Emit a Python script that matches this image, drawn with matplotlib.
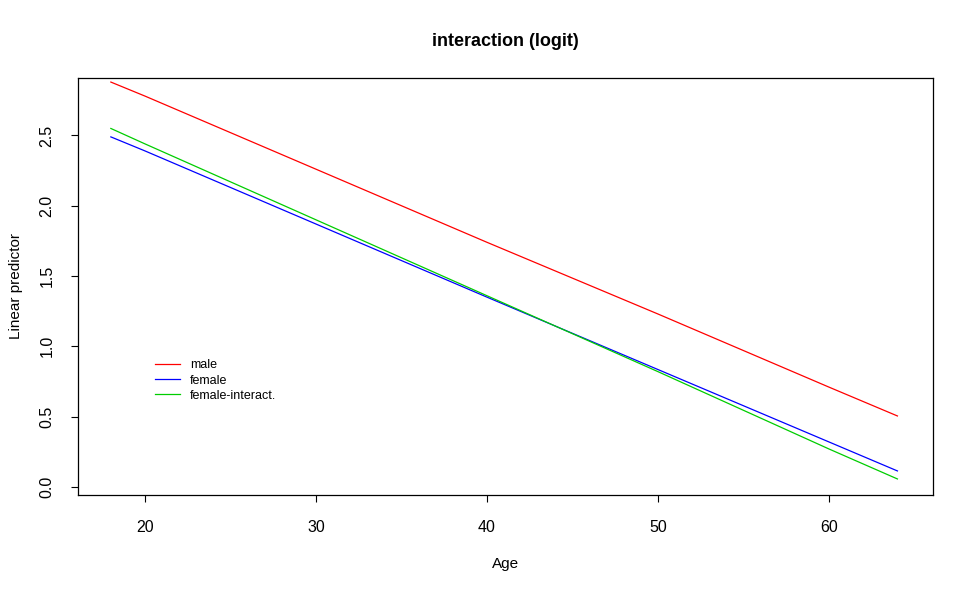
import matplotlib
matplotlib.use("Agg")
import matplotlib.pyplot as plt

plt.rcParams['font.family'] = ['Liberation Sans', 'DejaVu Sans']

# values
age = [18, 20, 30, 40, 50, 60, 64]
male = [2.88, 2.78, 2.26, 1.74, 1.23, 0.71, 0.505]
female = [2.49, 2.39, 1.87, 1.35, 0.835, 0.32, 0.114]
female_interact = [2.55, 2.44, 1.90, 1.36, 0.82, 0.27, 0.057]

labels = ['male', 'female', 'female-interact.']
colors = ['#FF0000', '#0000FF', '#00CD00']

fig = plt.figure(figsize=(9.74, 5.93), dpi=100)
ax = fig.add_axes([0.0801, 0.1653, 0.8778, 0.7032])

for y, lab, col in zip([male, female, female_interact], labels, colors):
    ax.plot(age, y, color=col, lw=0.9, label=lab)

ax.set_xlim(16.08, 66.08)
ax.set_ylim(-0.057, 2.909)
ax.set_xticks([20, 30, 40, 50, 60])
ax.set_yticks([0.0, 0.5, 1.0, 1.5, 2.0, 2.5])
ax.set_yticklabels(['0.0', '0.5', '1.0', '1.5', '2.0', '2.5'], rotation=90, va='center')
ax.tick_params(direction='out', length=5, width=0.8, labelsize=11.5)
ax.tick_params(axis='x', pad=13)
ax.tick_params(axis='y', pad=12)

for s in ax.spines.values():
    s.set_linewidth(0.9)

ax.set_xlabel('Age', fontsize=11, labelpad=16)
ax.set_ylabel('Linear predictor', fontsize=11, labelpad=12)
ax.set_title('interaction (logit)', fontsize=13, fontweight='bold', pad=23)

ax.legend(loc='upper left', bbox_to_anchor=(0.09, 0.325), frameon=False,
          fontsize=9, handlelength=2.0, handletextpad=0.8, labelspacing=0.25,
          borderpad=0, borderaxespad=0)

fig.savefig('out.png', dpi=100)
